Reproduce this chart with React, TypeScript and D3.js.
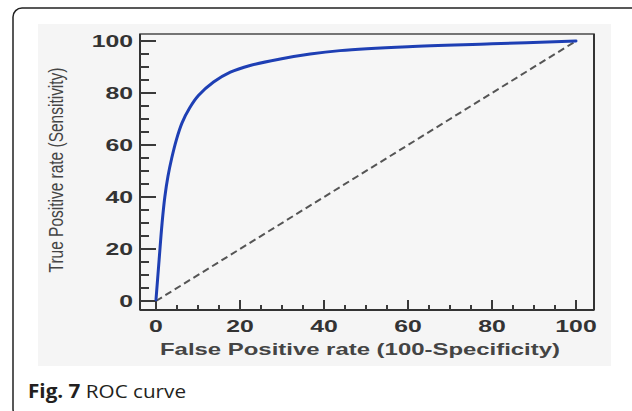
import React from "react";
import * as d3 from "d3";

// ROC curve points (False Positive rate, True Positive rate)
const fprValues = [0, 0.75, 1.45, 2.1, 2.85, 3.75, 4.85, 6.2, 8.0, 10.1, 13.7, 17.7, 22.4, 29.6, 36.7, 43.8, 60, 80, 100];
const tprValues = [0.5, 16, 30, 40, 48, 55, 62, 68.5, 74.2, 79, 84.2, 88, 90.6, 93.1, 95, 96.3, 97.8, 98.9, 100];
const diagonal = [0, 100];
const majorTicks = [0, 20, 40, 60, 80, 100];
const minorTicks = d3.range(0, 101, 5);
const xTitle = "False Positive rate (100-Specificity)";
const yTitle = "True Positive rate (Sensitivity)";

const W = 632;
const H = 411;

export default function App() {
  const x = d3.scaleLinear().domain([0, 100]).range([156, 576]);
  const y = d3.scaleLinear().domain([0, 100]).range([301, 41]);
  const frame = { left: 140, right: 594, top: 34, bottom: 310 };

  const pts: [number, number][] = fprValues.map((f, i) => [f, tprValues[i]]);
  const diagPath = d3
    .line<number>()
    .x((d) => x(d))
    .y((d) => y(d))(diagonal);
  const rocPath = d3
    .line<[number, number]>()
    .x((d) => x(d[0]))
    .y((d) => y(d[1]))
    .curve(d3.curveCatmullRom.alpha(0.5))(pts);

  const sx = 1.55;
  const tickFont = "'Liberation Sans', Arial, sans-serif";

  return (
    <svg
      width={W}
      height={H}
      style={{ position: "absolute", left: 0, top: 0, background: "#fff" }}
    >
      {/* outer card border */}
      <rect x={13} y={8} width={640} height={410} rx={9} ry={9} fill="#fff" stroke="#222" strokeWidth={1.5} />
      {/* panel background */}
      <rect x={38} y={24} width={573} height={342} fill="#f5f5f5" />
      {/* plot frame */}
      <rect
        x={frame.left}
        y={frame.top}
        width={frame.right - frame.left}
        height={frame.bottom - frame.top}
        fill="#f6f6f6"
        stroke="#555"
        strokeWidth={1.6}
      />
      <line x1={frame.left} x2={frame.left} y1={frame.top} y2={frame.bottom} stroke="#333" strokeWidth={2} />
      <line x1={frame.left} x2={frame.right} y1={frame.bottom} y2={frame.bottom} stroke="#333" strokeWidth={2} />
      <line x1={frame.right} x2={frame.right} y1={frame.top} y2={frame.bottom} stroke="#333" strokeWidth={2} />

      {/* y ticks */}
      {minorTicks.map((t) => {
        const major = t % 20 === 0;
        return (
          <line
            key={"yt" + t}
            x1={frame.left}
            x2={frame.left + (major ? 16 : 9)}
            y1={y(t)}
            y2={y(t)}
            stroke="#3a3a3a"
            strokeWidth={2}
          />
        );
      })}
      {/* x ticks */}
      {minorTicks.map((t) => {
        const major = t % 20 === 0;
        return (
          <line
            key={"xt" + t}
            x1={x(t)}
            x2={x(t)}
            y1={frame.bottom}
            y2={frame.bottom - (major ? 10 : 5)}
            stroke="#3a3a3a"
            strokeWidth={2}
          />
        );
      })}

      {/* y tick labels */}
      {majorTicks.map((t) => (
        <text
          key={"yl" + t}
          transform={`translate(133,${y(t) + 6}) scale(${sx},1)`}
          textAnchor="end"
          fontFamily={tickFont}
          fontWeight="bold"
          fontSize={16}
          fill="#333"
        >
          {t}
        </text>
      ))}
      {/* x tick labels */}
      {majorTicks.map((t) => (
        <text
          key={"xl" + t}
          transform={`translate(${x(t)},332) scale(${sx},1)`}
          textAnchor="middle"
          fontFamily={tickFont}
          fontWeight="bold"
          fontSize={16}
          fill="#333"
        >
          {t}
        </text>
      ))}

      {/* axis titles */}
      <text
        x={360}
        y={355}
        textAnchor="middle"
        fontFamily={tickFont}
        fontWeight="bold"
        fontSize={16.5}
        fill="#444"
        textLength={400}
        lengthAdjust="spacingAndGlyphs"
      >
        {xTitle}
      </text>
      <text
        transform={`translate(63,170) scale(1.4,1) rotate(-90)`}
        textAnchor="middle"
        fontFamily={tickFont}
        fontSize={14}
        fill="#444"
        textLength={205}
        lengthAdjust="spacingAndGlyphs"
      >
        {yTitle}
      </text>

      {/* diagonal reference line */}
      <path d={diagPath || ""} fill="none" stroke="#555" strokeWidth={2} strokeDasharray="7,4" />
      {/* ROC curve */}
      <path d={rocPath || ""} fill="none" stroke="#1e3fb4" strokeWidth={3} strokeLinejoin="round" strokeLinecap="round" />

      {/* caption */}
      <text
        x={28}
        y={398}
        fontFamily="'Open Sans', sans-serif"
        fontSize={19}
        fill="#231f20"
        textLength={158}
        lengthAdjust="spacingAndGlyphs"
      >
        <tspan fontWeight="bold">Fig. 7</tspan>
        <tspan> ROC curve</tspan>
      </text>
    </svg>
  );
}
